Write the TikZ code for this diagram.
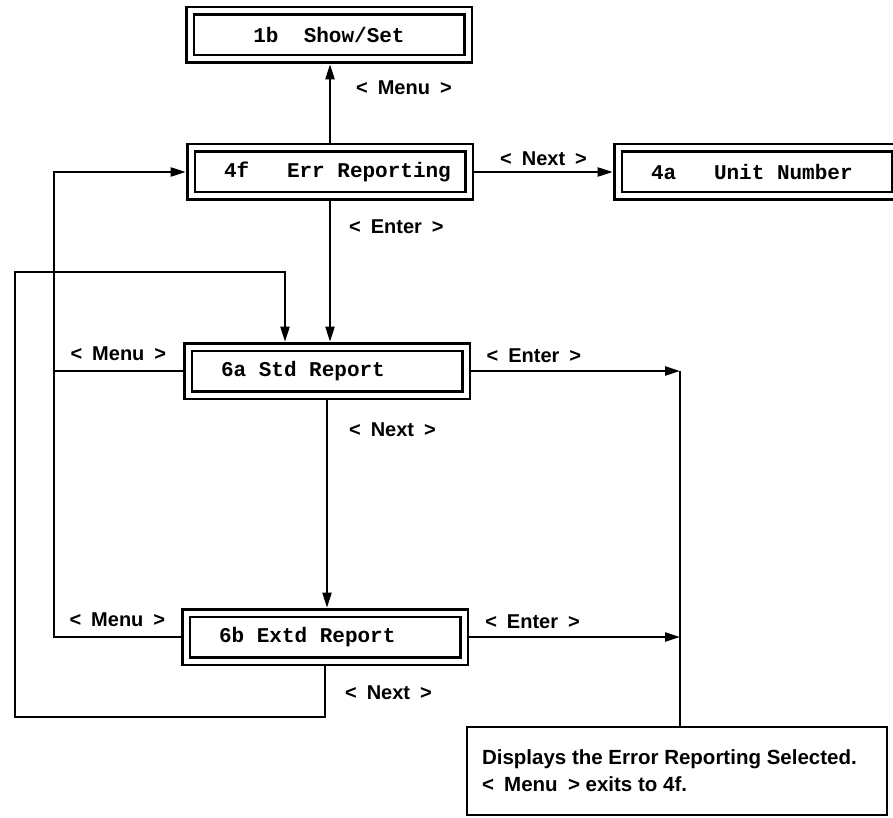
\documentclass[tikz,border=0pt]{standalone}
\usepackage{fontspec}
\setmainfont{Liberation Sans}
\newfontfamily\screenfont{Liberation Mono}[WordSpace={1,0,0}]
\usetikzlibrary{arrows.meta, positioning}

\newcommand{\btn}[1]{<\hspace{0.5em}#1\hspace{0.5em}>}

\tikzset{
  menubox/.style={draw, double, line width=2.8pt, double distance=5pt, outer sep=5.3pt,
    text width=212pt, inner xsep=33pt, minimum height=48pt, align=flush left,
    font=\screenfont\bfseries\fontsize{21}{24}\selectfont},
  keylabel/.style={inner sep=1pt, font=\bfseries\fontsize{20}{22}\selectfont},
  infobox/.style={draw, line width=2.4pt, text width=390pt, inner xsep=15pt,
    minimum height=88pt, align=flush left, font=\bfseries\fontsize{20.5}{27}\selectfont}
}

\begin{document}
\begin{tikzpicture}[x=1pt, y=-1pt, line width=2.2pt, >={Triangle[length=15pt,width=9pt]}]
        \useasboundingbox (0,0) rectangle (893,818);

        % screens
        \node[menubox, align=flush center] (showset) at (329,35) {\mbox{1b~~Show/Set}};
        \node[menubox] (errrep) at (330,172) {\mbox{4f~~~Err~Reporting}};
        \node[menubox] (unitnum) at (757,172) {\mbox{4a~~~Unit~Number}};
        \node[menubox] (stdrep) at (327,371) {\mbox{6a~Std~Report}};
        \node[menubox] (extdrep) at (325,637) {\mbox{6b~Extd~Report}};
        \node[infobox] (info) at (677,771) {Displays the Error Reporting Selected.\\\btn{Menu} exits to 4f.};

        \coordinate (menubus) at (54,0);
        \coordinate (loopbot) at (15,717);
        \coordinate (looptop) at (285,272);
        \coordinate (enterbus) at (680,371);

        \draw[->] (errrep.north) -- node[keylabel, pos=0.7, right=24pt] {\btn{Menu}} (errrep.north |- showset.south);
        \draw[->] (errrep.east) -- node[keylabel, above=4pt] {\btn{Next}} (unitnum.west);
        \draw[->] (errrep.south) -- node[keylabel, pos=0.18, right=17pt] {\btn{Enter}} (errrep.south |- stdrep.north);
        \draw[->] (stdrep.south) -- node[keylabel, pos=0.14, right=20pt] {\btn{Next}} (stdrep.south |- extdrep.north);

        % menu back to 4f
        \draw (stdrep.west) -- node[keylabel, above=8pt] {\btn{Menu}} (stdrep.west -| menubus);
        \draw[->] (extdrep.west) -- node[keylabel, above=8pt] {\btn{Menu}} (extdrep.west -| menubus) |- (errrep.west);

        % next from 6b back to 6a
        \draw[->] (extdrep.south) |- node[keylabel, pos=0.26, right=18pt] {\btn{Next}} (loopbot)
             |- (looptop) -- (looptop |- stdrep.north);

        % enter to the report display
        \draw[->] (stdrep.east) -- node[keylabel, pos=0.3, above=6pt] {\btn{Enter}} (enterbus);
        \draw[->] (extdrep.east) -- node[keylabel, pos=0.3, above=6pt] {\btn{Enter}} (extdrep.east -| enterbus);
        \draw (enterbus) -- (enterbus |- info.north);
\end{tikzpicture}
\end{document}
